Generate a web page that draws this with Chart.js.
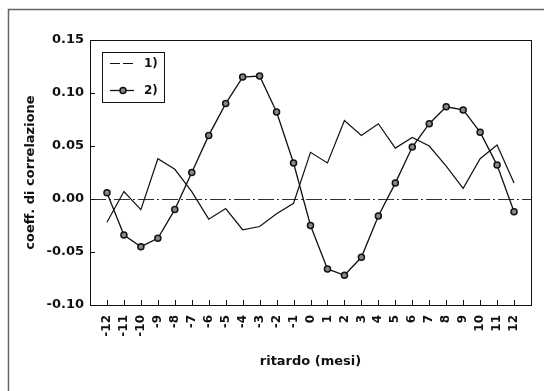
<!DOCTYPE html>
<html>
<head>
<meta charset="utf-8">
<script src="https://cdn.jsdelivr.net/npm/chart.js@4.4.0/dist/chart.umd.min.js"></script>
<style>
  html, body { margin: 0; padding: 0; background: #fff; }
</style>
</head>
<body>
<canvas id="mycanvas" width="544" height="391"></canvas>
<script>
// lag in months and the two correlation series
var lags = [-12, -11, -10, -9, -8, -7, -6, -5, -4, -3, -2, -1, 0, 1, 2, 3, 4, 5, 6, 7, 8, 9, 10, 11, 12];
var serie1 = [-0.022, 0.007, -0.010, 0.038, 0.028, 0.007, -0.019, -0.009, -0.029, -0.026, -0.014, -0.004,
              0.044, 0.034, 0.074, 0.060, 0.071, 0.048, 0.058, 0.050, 0.031, 0.010, 0.038, 0.051, 0.015];
var serie2 = [0.006, -0.034, -0.045, -0.037, -0.010, 0.025, 0.060, 0.090, 0.115, 0.116, 0.082, 0.034,
              -0.025, -0.066, -0.072, -0.055, -0.016, 0.015, 0.049, 0.071, 0.087, 0.084, 0.063, 0.032, -0.012];
var yTicks = [-0.10, -0.05, 0.00, 0.05, 0.10, 0.15];
var labels = ['1)', '2)'];

var FONT = 'DejaVu Sans';

function points(vals) {
  return lags.map(function(l, i) { return {x: l, y: vals[i]}; });
}

// frame, zero line, inner ticks and legend box
var decor = {
  id: 'decor',
  beforeDraw: function(chart) {
    var ctx = chart.ctx;
    ctx.save();
    ctx.fillStyle = '#fff';
    ctx.fillRect(0, 0, chart.width, chart.height);
    ctx.strokeStyle = '#666';
    ctx.lineWidth = 1.5;
    ctx.beginPath();
    ctx.moveTo(8.5, chart.height);
    ctx.lineTo(8.5, 9.5);
    ctx.lineTo(chart.width, 9.5);
    ctx.stroke();
    ctx.restore();
  },
  beforeDatasetsDraw: function(chart) {
    var ctx = chart.ctx, a = chart.chartArea;
    var y0 = Math.round(chart.scales.y.getPixelForValue(0)) + 0.5;
    ctx.save();
    ctx.strokeStyle = '#333';
    ctx.lineWidth = 1;
    ctx.setLineDash([16, 3, 2, 3]);
    ctx.beginPath();
    ctx.moveTo(a.left, y0);
    ctx.lineTo(a.right, y0);
    ctx.stroke();
    ctx.restore();
  },
  afterDraw: function(chart) {
    var ctx = chart.ctx, a = chart.chartArea;
    var xs = chart.scales.x, ys = chart.scales.y;
    ctx.save();
    ctx.strokeStyle = '#111';
    ctx.lineWidth = 1;
    ctx.strokeRect(Math.round(a.left) + 0.5, Math.round(a.top) + 0.5,
                   Math.round(a.right - a.left), Math.round(a.bottom - a.top));
    ctx.beginPath();
    lags.forEach(function(l) {
      var px = Math.round(xs.getPixelForValue(l)) + 0.5;
      ctx.moveTo(px, a.bottom);
      ctx.lineTo(px, a.bottom - 5);
    });
    yTicks.forEach(function(v) {
      var py = Math.round(ys.getPixelForValue(v)) + 0.5;
      ctx.moveTo(a.left, py);
      ctx.lineTo(a.left + 5, py);
    });
    ctx.stroke();

    // legend
    var bx = 102.5, by = 52.5, bw = 62, bh = 50;
    ctx.strokeRect(bx, by, bw, bh);
    ctx.font = 'bold 12px "' + FONT + '"';
    ctx.fillStyle = '#111';
    ctx.textAlign = 'left';
    ctx.textBaseline = 'middle';
    chart.data.datasets.forEach(function(ds, i) {
      var ly = 63.5 + i * 27;
      ctx.strokeStyle = '#111';
      ctx.lineWidth = ds.borderWidth;
      ctx.setLineDash(i === 0 ? [10, 3] : []);
      ctx.beginPath();
      ctx.moveTo(110, ly);
      ctx.lineTo(134, ly);
      ctx.stroke();
      ctx.setLineDash([]);
      if (ds.pointRadius > 0) {
        ctx.beginPath();
        ctx.arc(123, ly, ds.pointRadius, 0, Math.PI * 2);
        ctx.fillStyle = ds.pointBackgroundColor;
        ctx.fill();
        ctx.lineWidth = ds.pointBorderWidth;
        ctx.strokeStyle = ds.pointBorderColor;
        ctx.stroke();
      }
      ctx.fillStyle = '#111';
      ctx.fillText(ds.label, 144, ly);
    });
    ctx.restore();
  }
};

var ctx = document.getElementById('mycanvas');

var chart = new Chart(ctx, {
  type: 'line',
  data: {
    datasets: [
      {
        label: labels[0],
        data: points(serie1),
        borderColor: '#111',
        borderWidth: 1.2,
        pointRadius: 0,
        tension: 0,
        fill: false
      },
      {
        label: labels[1],
        data: points(serie2),
        borderColor: '#111',
        borderWidth: 1.3,
        pointRadius: 3,
        pointBackgroundColor: '#888',
        pointBorderColor: '#111',
        pointBorderWidth: 1.5,
        tension: 0,
        fill: false
      }
    ]
  },
  options: {
    responsive: false,
    animation: false,
    devicePixelRatio: 1,
    layout: { padding: { top: 40, right: 13, left: 0, bottom: 0 } },
    plugins: { legend: { display: false }, tooltip: { enabled: false } },
    scales: {
      x: {
        type: 'linear',
        min: -13,
        max: 13,
        afterBuildTicks: function(s) { s.ticks = lags.map(function(v) { return {value: v}; }); },
        afterFit: function(s) { s.height = 86; },
        grid: { display: false, drawTicks: false },
        border: { display: false },
        ticks: {
          autoSkip: false,
          maxRotation: 90,
          minRotation: 90,
          padding: 10,
          color: '#111',
          font: { family: FONT, weight: 'bold', size: 12 },
          callback: function(v) { return String(v); }
        },
        title: {
          display: true,
          text: 'ritardo (mesi)',
          color: '#111',
          font: { family: FONT, weight: 'bold', size: 13 },
          padding: { top: 0, bottom: 22 }
        }
      },
      y: {
        min: -0.10,
        max: 0.15,
        afterBuildTicks: function(s) { s.ticks = yTicks.map(function(v) { return {value: v}; }); },
        afterFit: function(s) { s.width = 90; },
        grid: { display: false, drawTicks: false },
        border: { display: false },
        ticks: {
          padding: 6,
          color: '#111',
          font: { family: FONT, weight: 'bold', size: 13 },
          callback: function(v) { return Math.abs(v) < 1e-9 ? '0.00' : v.toFixed(2); }
        },
        title: {
          display: true,
          text: 'coeff. di correlazione',
          color: '#111',
          font: { family: FONT, weight: 'bold', size: 13 },
          padding: { top: 23, bottom: 0 }
        }
      }
    }
  },
  plugins: [decor]
});
</script>
</body>
</html>
